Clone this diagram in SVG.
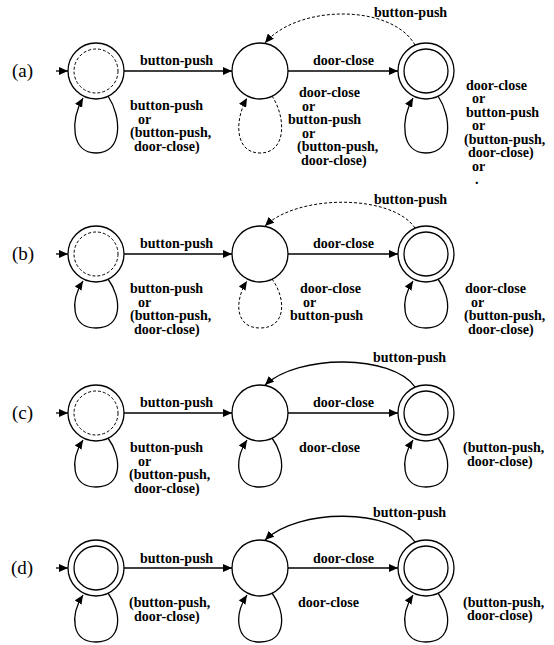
<svg xmlns="http://www.w3.org/2000/svg" width="554" height="645" viewBox="0 0 554 645">
<style>
.bg{fill:#fff}
.st{fill:none;stroke:#000;stroke-width:1.3}
.dsh{fill:none;stroke:#000;stroke-width:1;stroke-dasharray:3 2}
.ln{fill:none;stroke:#000;stroke-width:1.3;marker-end:url(#ah)}
.dl{fill:none;stroke:#000;stroke-width:1;stroke-dasharray:3 2;marker-end:url(#ah)}
.t{font-family:"Liberation Serif","Times New Roman",serif;font-weight:bold;font-size:14px;fill:#000}
.p{font-family:"Liberation Serif","Times New Roman",serif;font-size:19px;fill:#000}
</style>
<defs>
<marker id="ah" markerWidth="10" markerHeight="8" refX="9" refY="4" orient="auto" markerUnits="userSpaceOnUse"><path d="M0,0 L9,4 L0,8 z" fill="#000"/></marker>
</defs>
<rect class="bg" x="0" y="0" width="554" height="645"/>

<!-- Row (a) -->
<g id="row-a">
<text class="p" x="12" y="77">(a)</text>
<g id="a-s1"><circle class="st" cx="96" cy="71" r="28"/><circle class="dsh" cx="96" cy="71" r="22"/></g>
<g id="a-s2"><circle class="st" cx="260" cy="71" r="28"/></g>
<g id="a-s3"><circle class="st" cx="426" cy="71" r="28"/><circle class="st" cx="426" cy="71" r="22"/></g>
<g id="a-conn">
<path class="ln" d="M56,71 L68,71"/>
<path class="ln" d="M124,71 L232,71"/>
<path class="ln" d="M288,71 L398,71"/>
<path class="dl" d="M415,45 C392,4 298,4 265,43"/>
<path class="ln" d="M108,96 C122,117 123,153 96,153 C71,153 70,121 83,98"/>
<path class="dl" d="M272,96 C286,117 287,153 260,153 C235,153 234,121 247,98"/>
<path class="ln" d="M438,96 C452,117 453,153 426,153 C401,153 400,121 413,98"/>
</g>
<g id="a-labels">
<text class="t" x="140" y="65">button-push</text>
<text class="t" x="313" y="65">door-close</text>
<text class="t" x="374" y="17">button-push</text>
<text class="t" x="130" y="110">button-push</text>
<text class="t" x="138" y="123.5">or</text>
<text class="t" x="130" y="137">(button-push,</text>
<text class="t" x="134" y="150.5">door-close)</text>
<text class="t" x="299" y="97">door-close</text>
<text class="t" x="302" y="110.5">or</text>
<text class="t" x="288" y="124">button-push</text>
<text class="t" x="302" y="137.5">or</text>
<text class="t" x="297" y="151">(button-push,</text>
<text class="t" x="301" y="164.5">door-close)</text>
<text class="t" x="466" y="89.5">door-close</text>
<text class="t" x="472" y="103">or</text>
<text class="t" x="466" y="116.5">button-push</text>
<text class="t" x="472" y="130">or</text>
<text class="t" x="464" y="143.5">(button-push,</text>
<text class="t" x="468" y="157">door-close)</text>
<text class="t" x="472" y="170.5">or</text>
<text class="t" x="475" y="184">.</text>
</g>
</g>

<!-- Row (b) -->
<g id="row-b">
<text class="p" x="12" y="260">(b)</text>
<g id="b-s1"><circle class="st" cx="96" cy="254" r="28"/><circle class="dsh" cx="96" cy="254" r="22"/></g>
<g id="b-s2"><circle class="st" cx="260" cy="254" r="28"/></g>
<g id="b-s3"><circle class="st" cx="426" cy="254" r="28"/><circle class="st" cx="426" cy="254" r="22"/></g>
<g id="b-conn">
<path class="ln" d="M56,254 L68,254"/>
<path class="ln" d="M124,254 L232,254"/>
<path class="ln" d="M288,254 L398,254"/>
<path class="dl" d="M415,228 C392,194 298,194 265,226"/>
<path class="ln" d="M108,279 C122,298 123,328 96,328 C71,328 70,301 83,281"/>
<path class="dl" d="M272,279 C286,298 287,328 260,328 C235,328 234,301 247,281"/>
<path class="ln" d="M438,279 C452,298 453,328 426,328 C401,328 400,301 413,281"/>
</g>
<g id="b-labels">
<text class="t" x="140" y="248">button-push</text>
<text class="t" x="313" y="248">door-close</text>
<text class="t" x="374" y="204">button-push</text>
<text class="t" x="130" y="293">button-push</text>
<text class="t" x="138" y="306.5">or</text>
<text class="t" x="130" y="320">(button-push,</text>
<text class="t" x="134" y="333.5">door-close)</text>
<text class="t" x="300" y="293">door-close</text>
<text class="t" x="303" y="306.5">or</text>
<text class="t" x="290" y="320">button-push</text>
<text class="t" x="465" y="293">door-close</text>
<text class="t" x="471" y="306.5">or</text>
<text class="t" x="464" y="320">(button-push,</text>
<text class="t" x="468" y="333.5">door-close)</text>
</g>
</g>

<!-- Row (c) -->
<g id="row-c">
<text class="p" x="12" y="419">(c)</text>
<g id="c-s1"><circle class="st" cx="96" cy="413" r="28"/><circle class="dsh" cx="96" cy="413" r="22"/></g>
<g id="c-s2"><circle class="st" cx="260" cy="413" r="28"/></g>
<g id="c-s3"><circle class="st" cx="426" cy="413" r="28"/><circle class="st" cx="426" cy="413" r="22"/></g>
<g id="c-conn">
<path class="ln" d="M56,413 L68,413"/>
<path class="ln" d="M124,413 L232,413"/>
<path class="ln" d="M288,413 L398,413"/>
<path class="ln" d="M415,387 C392,354 298,354 265,385"/>
<path class="ln" d="M108,438 C122,457 123,487 96,487 C71,487 70,460 83,440"/>
<path class="ln" d="M272,438 C286,457 287,487 260,487 C235,487 234,460 247,440"/>
<path class="ln" d="M438,438 C452,457 453,487 426,487 C401,487 400,460 413,440"/>
</g>
<g id="c-labels">
<text class="t" x="140" y="407">button-push</text>
<text class="t" x="313" y="407">door-close</text>
<text class="t" x="373" y="362">button-push</text>
<text class="t" x="130" y="452">button-push</text>
<text class="t" x="138" y="465.5">or</text>
<text class="t" x="129" y="479">(button-push,</text>
<text class="t" x="134" y="492.5">door-close)</text>
<text class="t" x="299" y="452">door-close</text>
<text class="t" x="463" y="452">(button-push,</text>
<text class="t" x="467" y="465.5">door-close)</text>
</g>
</g>

<!-- Row (d) -->
<g id="row-d">
<text class="p" x="11" y="574">(d)</text>
<g id="d-s1"><circle class="st" cx="96" cy="568" r="28"/><circle class="st" cx="96" cy="568" r="22"/></g>
<g id="d-s2"><circle class="st" cx="260" cy="568" r="28"/></g>
<g id="d-s3"><circle class="st" cx="426" cy="568" r="28"/><circle class="st" cx="426" cy="568" r="22"/></g>
<g id="d-conn">
<path class="ln" d="M56,568 L68,568"/>
<path class="ln" d="M124,568 L232,568"/>
<path class="ln" d="M288,568 L398,568"/>
<path class="ln" d="M415,542 C392,508 298,508 265,540"/>
<path class="ln" d="M108,593 C122,612 123,642 96,642 C71,642 70,615 83,595"/>
<path class="ln" d="M272,593 C286,612 287,642 260,642 C235,642 234,615 247,595"/>
<path class="ln" d="M438,593 C452,612 453,642 426,642 C401,642 400,615 413,595"/>
</g>
<g id="d-labels">
<text class="t" x="140" y="563">button-push</text>
<text class="t" x="313" y="563">door-close</text>
<text class="t" x="373" y="517">button-push</text>
<text class="t" x="129" y="607">(button-push,</text>
<text class="t" x="134" y="620.5">door-close)</text>
<text class="t" x="298" y="607">door-close</text>
<text class="t" x="463" y="606.5">(button-push,</text>
<text class="t" x="467" y="620">door-close)</text>
</g>
</g>
</svg>
